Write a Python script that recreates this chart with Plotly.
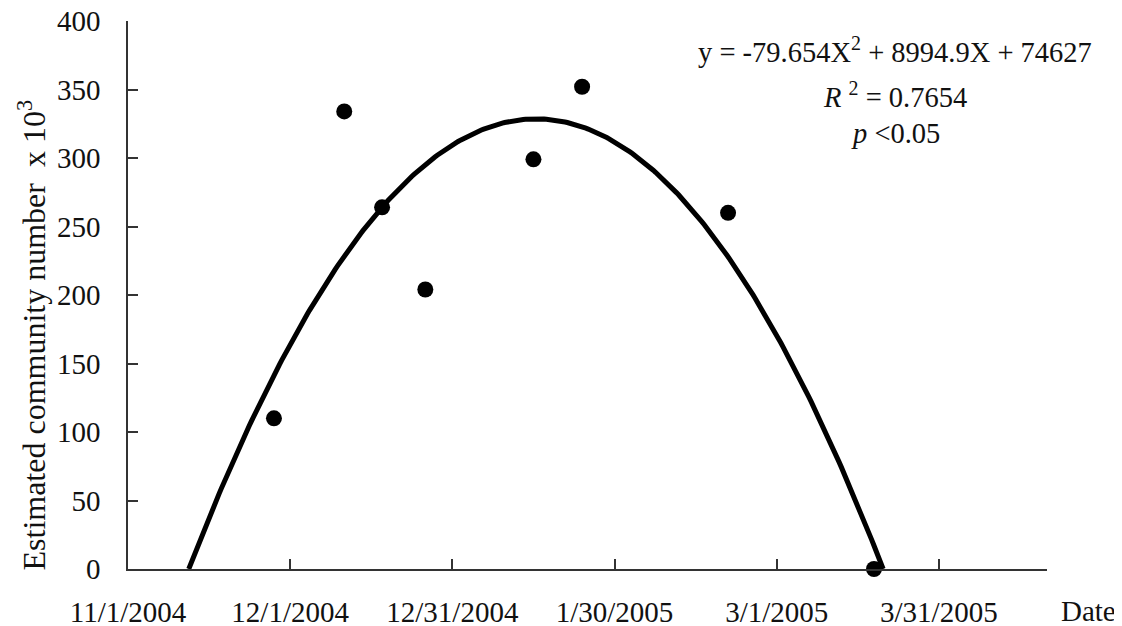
import numpy as np
import pandas as pd
import plotly.graph_objects as go

# ---- data ----
sample_dates = ["2004-11-28", "2004-12-11", "2004-12-18", "2004-12-26",
                "2005-01-15", "2005-01-24", "2005-02-20", "2005-03-19"]
community_k = [110, 334, 264, 204, 299, 352, 260, 0]

tick_dates = ["2004-11-01", "2004-12-01", "2004-12-31", "2005-01-30",
              "2005-03-01", "2005-03-31"]
tick_labels = ["11/1/2004", "12/1/2004", "12/31/2004", "1/30/2005",
               "3/1/2005", "3/31/2005"]
y_ticks = [0, 50, 100, 150, 200, 250, 300, 350, 400]

# quadratic fit shown on the chart (y raw count, X in days)
coef_a, coef_b, coef_c = -79.654, 8994.9, 74627
fit_origin = "2004-11-20"

# ---- fitted curve between its roots ----
disc = np.sqrt(coef_b ** 2 - 4 * coef_a * coef_c)
r1 = (-coef_b + disc) / (2 * coef_a)
r2 = (-coef_b - disc) / (2 * coef_a)
Xs = np.linspace(min(r1, r2), max(r1, r2), 300)
Ys = (coef_a * Xs ** 2 + coef_b * Xs + coef_c) / 1000.0
Ys = np.clip(Ys, 0, None)
curve_dates = pd.Timestamp(fit_origin) + pd.to_timedelta(Xs, unit="D")

FONT = "Liberation Serif, Times New Roman, serif"

fig = go.Figure()
fig.add_trace(go.Scatter(
    x=curve_dates, y=Ys, mode="lines",
    line=dict(color="black", width=5), hoverinfo="skip",
    showlegend=False, cliponaxis=False))
fig.add_trace(go.Scatter(
    x=pd.to_datetime(sample_dates), y=community_k, mode="markers",
    marker=dict(color="black", size=16),
    showlegend=False, cliponaxis=False))

axis_col = "#333333"
fig.update_xaxes(
    type="date", range=["2004-11-01", "2005-04-20"], automargin=False,
    tickmode="array", tickvals=pd.to_datetime(tick_dates), ticktext=tick_labels,
    ticks="inside", ticklen=10, tickwidth=1.5, tickcolor=axis_col,
    showline=True, linecolor=axis_col, linewidth=1.5,
    showgrid=False, zeroline=False, ticklabeloverflow="allow",
    tickfont=dict(family=FONT, size=29, color="#111"),
    ticklabelstandoff=16)
fig.update_yaxes(
    range=[0, 400], tickmode="array", tickvals=y_ticks, automargin=False,
    ticks="inside", ticklen=10, tickwidth=1.5, tickcolor=axis_col,
    showline=True, linecolor=axis_col, linewidth=1.5,
    showgrid=False, zeroline=False, ticklabeloverflow="allow",
    tickfont=dict(family=FONT, size=29, color="#111"),
    ticklabelstandoff=20)

ann_font = dict(family=FONT, size=28.5, color="#111")
fig.add_annotation(xref="paper", yref="paper", x=0.835, y=0.947,
                   text="y = -79.654X<sup>2</sup> + 8994.9X + 74627",
                   showarrow=False, font=ann_font, xanchor="center", yanchor="middle")
fig.add_annotation(xref="paper", yref="paper", x=0.835, y=0.865,
                   text="<i>R</i> <sup>2</sup> = 0.7654",
                   showarrow=False, font=ann_font, xanchor="center", yanchor="middle")
fig.add_annotation(xref="paper", yref="paper", x=0.835, y=0.795,
                   text="<i>p</i> &lt;0.05",
                   showarrow=False, font=ann_font, xanchor="center", yanchor="middle")
fig.add_annotation(xref="paper", yref="paper", x=1.045, y=-0.077,
                   text="Date", showarrow=False,
                   font=dict(family=FONT, size=29, color="#111"),
                   xanchor="center", yanchor="middle")
fig.add_annotation(xref="paper", yref="paper", x=-0.105, y=0.427,
                   text="Estimated community number\u00a0\u00a0x 10<sup>3</sup>",
                   textangle=-90, showarrow=False,
                   font=dict(family=FONT, size=32, color="#111"),
                   xanchor="center", yanchor="middle")

fig.update_layout(
    width=1114, height=618,
    margin=dict(l=120, r=75, t=13, b=57),
    paper_bgcolor="white", plot_bgcolor="white",
    showlegend=False)

fig.write_html("out.html")
